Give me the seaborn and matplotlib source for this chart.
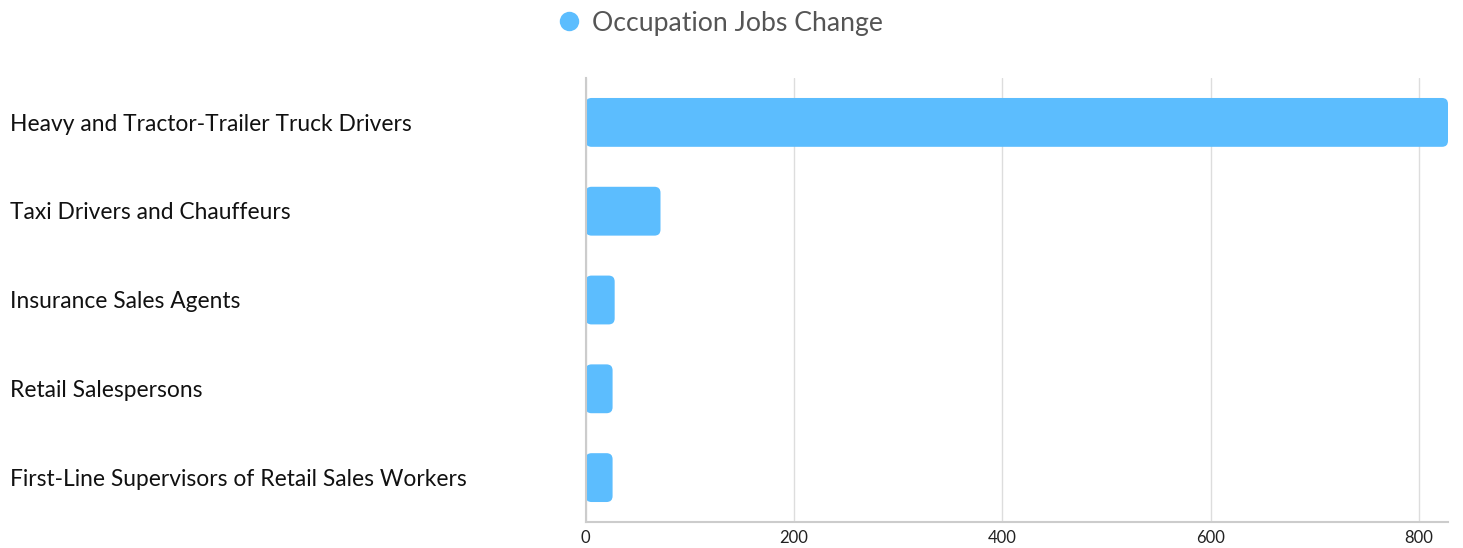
import matplotlib
matplotlib.use("Agg")
import matplotlib.pyplot as plt
from matplotlib.patches import FancyBboxPatch
from matplotlib.lines import Line2D
import matplotlib.transforms as mtransforms
import seaborn as sns
import pandas as pd

occupations = [
    "Heavy and Tractor-Trailer Truck Drivers",
    "Taxi Drivers and Chauffeurs",
    "Insurance Sales Agents",
    "Retail Salespersons",
    "First-Line Supervisors of Retail Sales Workers",
]
jobs_change = [828, 72, 28, 26, 26]
x_ticks = [0, 200, 400, 600, 800]

bar_color = "#5cbdfe"

sns.set_theme(style="white")
plt.rcParams["font.family"] = ["Lato", "DejaVu Sans"]

df = pd.DataFrame({"occupation": occupations, "change": jobs_change})

fig = plt.figure(figsize=(14.63, 5.48), dpi=100)
ax = fig.add_axes([585.5 / 1463, 1 - 522 / 548, (1448 - 585.5) / 1463, (522 - 78) / 548])

sns.barplot(data=df, x="change", y="occupation", orient="h", color=bar_color,
            width=0.55, saturation=1, ax=ax)

ax.set_xlim(0, max(jobs_change))
ax.set_ylim(len(occupations) - 0.5, -0.5)

# swap bars for rounded ones
fig.canvas.draw()
px_x = ax.transData.transform((1, 0))[0] - ax.transData.transform((0, 0))[0]
px_y = abs(ax.transData.transform((0, 1))[1] - ax.transData.transform((0, 0))[1])
radius_px = 6
old = list(ax.patches)
for p in old:
    x, y, w, h = p.get_x(), p.get_y(), p.get_width(), p.get_height()
    p.remove()
    r = min(radius_px / px_x, w / 2)
    rb = FancyBboxPatch((x, y), w, h,
                        boxstyle=f"round,pad=0,rounding_size={r}",
                        mutation_aspect=px_x / px_y,
                        facecolor=bar_color, edgecolor="none", zorder=2)
    ax.add_patch(rb)

ax.set_xticks(x_ticks)
ax.set_xticklabels([str(t) for t in x_ticks], fontsize=12, color="#222222")
ax.tick_params(axis="x", length=0, pad=6)
ax.set_yticks(range(len(occupations)))
ax.set_yticklabels([])
ax.tick_params(axis="y", length=0)
ax.set_xlabel("")
ax.set_ylabel("")

ax.grid(axis="x", color="#dddddd", linewidth=1, zorder=0)
ax.set_axisbelow(True)
for s in ["top", "right"]:
    ax.spines[s].set_visible(False)
for s in ["left", "bottom"]:
    ax.spines[s].set_color("#cccccc")
    ax.spines[s].set_linewidth(1.5)

# category labels, left aligned at figure edge
trans = mtransforms.blended_transform_factory(fig.transFigure, ax.transData)
for i, name in enumerate(occupations):
    ax.text(10 / 1463, i + 0.02, name, transform=trans, ha="left", va="center",
            fontsize=16.4, color="#111111", clip_on=False)

handle = Line2D([], [], marker="o", linestyle="none", markersize=14,
                markerfacecolor=bar_color, markeredgecolor="none")
fig.legend([handle], ["Occupation Jobs Change"], loc="center",
           bbox_to_anchor=(719 / 1463, 1 - 23 / 548), frameon=False,
           fontsize=19.2, labelcolor="#555555", handletextpad=0.35,
           handlelength=1.0)

fig.savefig("out.png", dpi=100)
